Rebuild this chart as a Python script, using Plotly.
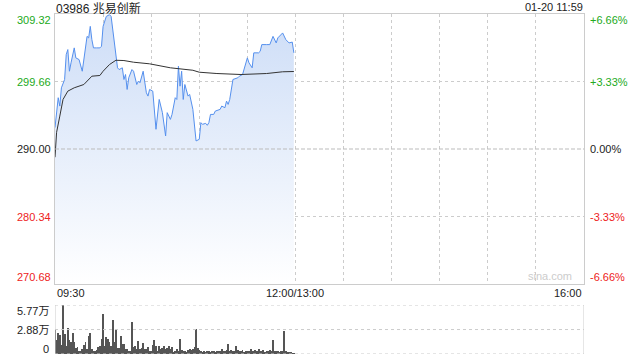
import plotly.graph_objects as go

# ---- data ----
PRICE_MIN = [0,1,2,3,4,6,7,8,9,10,12,13,15,17,19,20,21,22,23,24,26,28,29,30,32,34,35,36,37,38,39,40,42,43,44,45,46,48,49,51,52,53,55,57,58,59,61,63,65,67,69,70,72,73,75,76,77,78,79,80,81,83,84,86,88,90,91,92,94,95,96,97,99,100,103,104,106,107,108,109,111,114,115,117,118,120,121,123,124,127,128,129,132,134,136,138,139,142,144,146,148,149]
PRICE = [293.06,295.67,297.34,296.14,298.76,299.95,303.51,304.23,301.13,302.33,304.47,303.04,302.8,301.13,304.23,306.12,305.9,307.55,305.65,304.47,304.47,304.47,304.7,307.55,308.98,309.22,308.98,307.08,305.18,303.76,301.62,301.37,301.62,299.95,300.66,298.52,300.19,301.37,301.13,299.23,299.71,299.48,301.13,298.05,297.57,298.52,298.28,292.82,297.09,295.2,291.86,295.2,294.24,294.95,297.34,297.09,301.85,298.99,301.13,297.09,299.23,297.57,297.81,295.67,291.15,291.39,293.77,293.53,293.67,293.39,293.77,294.95,294.95,295.43,295.67,296.14,295.91,296.85,296.38,297.09,299.95,300.19,300.42,300.66,301.37,303.04,302.33,301.62,303.76,303.76,303.98,304.94,304.94,304.94,306.12,305.18,305.9,306.61,305.65,305.18,305.3,303.76]

AVG_MIN = [0,1,3,5,8,12,18,23,28,30,34,38,43,49,59,72,86,90,101,116,132,142,149]
AVG = [288.82,292.39,294.71,297.09,298.28,298.76,299.23,300.42,300.52,301.13,302.09,302.7,302.66,302.42,302.19,301.62,301.27,300.99,300.8,300.66,300.8,301.05,301.09]

VOL_WAN = [3.0,1.6,2.5,2.2,1.1,5.8,2.3,1.0,3.1,1.7,1.4,2.5,1.4,0.7,0.8,0.4,0.3,0.6,1.1,1.4,
           0.6,2.1,2.5,0.6,0.3,0.4,0.5,0.8,1.0,1.8,4.7,1.0,2.0,1.8,1.4,1.0,4.0,1.4,3.0,0.7,
           0.7,2.1,1.2,1.2,0.6,0.6,0.4,0.4,3.8,0.8,0.9,0.6,1.5,0.6,0.7,1.3,0.6,0.6,0.8,0.3,
           0.4,1.1,1.6,0.9,0.3,0.9,0.6,0.7,0.9,0.6,0.7,0.9,0.6,0.8,0.2,0.3,0.6,0.4,1.8,0.5,
           0.4,0.3,0.2,0.5,0.6,0.5,0.6,0.8,2.9,0.7,0.5,0.3,0.2,0.3,0.2,0.4,0.3,0.2,0.3,0.4,
           0.2,0.3,0.4,0.3,0.6,0.4,0.3,0.5,1.2,0.4,0.5,0.4,0.3,0.9,0.5,0.3,0.4,0.5,0.2,0.3,
           0.4,0.3,0.6,0.4,0.3,0.5,0.4,0.6,0.3,0.4,0.5,0.2,0.3,0.4,0.5,0.3,1.7,0.4,0.3,0.4,
           0.2,0.3,0.4,2.75,0.3,0.2,0.2,0.2,0.1,0.1]
VOL_MIN = list(range(len(VOL_WAN)))

PRICE_TICKS = [309.32, 299.66, 290.00, 280.34, 270.68]
PRICE_LABELS = ["309.32", "299.66", "290.00", "280.34", "270.68"]
PCT_LABELS = ["+6.66%", "+3.33%", "0.00%", "-3.33%", "-6.66%"]
VOL_TICKS = [5.77, 2.88, 0]
VOL_LABELS = ["5.77万", "2.88万", "0"]
X_LABELS = ["09:30", "12:00/13:00", "16:00"]
X_LABEL_POS = [0, 150, 330]
TITLE = "03986 兆易创新"
STAMP = "01-20 11:59"

# ---- style ----
GREEN = "#22aa22"
RED = "#ee2222"
BLACK = "#222222"
GRID = "#cccccc"
FONT = "Liberation Sans, Arial, Noto Sans CJK SC"

MAIN_DOM = [0.2059, 1.0]
VOL_DOM = [0.0, 0.1441]

fig = go.Figure()

fig.add_trace(go.Scatter(
    x=PRICE_MIN, y=PRICE, mode="lines",
    line=dict(color="#5590ee", width=1),
    fill="tozeroy",
    fillgradient=dict(type="vertical", start=270.68, stop=309.32,
                      colorscale=[[0, "rgba(255,255,255,1)"], [1, "rgba(205,221,247,1)"]]),
    xaxis="x", yaxis="y", hoverinfo="skip", showlegend=False))

fig.add_trace(go.Scatter(
    x=AVG_MIN, y=AVG, mode="lines", line=dict(color="#333333", width=1),
    xaxis="x", yaxis="y", hoverinfo="skip", showlegend=False))

fig.add_trace(go.Bar(
    x=VOL_MIN, y=VOL_WAN, width=0.55, marker=dict(color="#555555", line=dict(width=0)),
    xaxis="x2", yaxis="y2", hoverinfo="skip", showlegend=False))

fig.update_layout(
    width=640, height=360,
    margin=dict(l=55, r=56, t=14, b=6),
    paper_bgcolor="white", plot_bgcolor="rgba(0,0,0,0)",
    font=dict(family=FONT, size=11, color=BLACK),
    xaxis=dict(domain=[0, 1], range=[0, 330], anchor="y",
               tickvals=[30, 60, 90, 120, 150, 180, 210, 240, 270, 300],
               showticklabels=False, ticks="",
               showgrid=True, gridcolor=GRID, griddash="dot", gridwidth=1,
               showline=True, mirror=True, linecolor=GRID, linewidth=1, zeroline=False),
    yaxis=dict(domain=MAIN_DOM, range=[270.68, 309.32], anchor="x",
               tickvals=[299.66, 280.34], showticklabels=False, ticks="",
               showgrid=True, gridcolor=GRID, griddash="dot", gridwidth=1,
               showline=True, mirror=True, linecolor=GRID, linewidth=1, zeroline=False),
    xaxis2=dict(domain=[0, 1], range=[0, 330], anchor="y2",
                showticklabels=False, ticks="", showgrid=False, zeroline=False, showline=False),
    yaxis2=dict(domain=VOL_DOM, range=[0, 5.77], anchor="x2",
                showticklabels=False, ticks="", showgrid=False, zeroline=False, showline=False),
    bargap=0,
)

shapes = []
# 0% dashed line
shapes.append(dict(type="line", xref="x", yref="y", x0=0, x1=330, y0=290, y1=290,
                   line=dict(color="#bbbbbb", width=1, dash="4px,2px")))
# volume frame
for v in VOL_TICKS:
    shapes.append(dict(type="line", xref="x2", yref="y2", x0=0, x1=330, y0=v, y1=v,
                       line=dict(color=GRID, width=1, dash="dot")))
for xv in [0, 330]:
    shapes.append(dict(type="line", xref="x2", yref="y2", x0=xv, x1=xv, y0=0, y1=5.77,
                       line=dict(color=GRID, width=1)))
fig.update_layout(shapes=shapes)

ann = []
left_cols = [GREEN, GREEN, BLACK, RED, RED]
shifts = [-6, 0, 0, 0, 7]
for v, lab, pct, c, s in zip(PRICE_TICKS, PRICE_LABELS, PCT_LABELS, left_cols, shifts):
    ann.append(dict(xref="paper", yref="y", x=0, y=v, text=lab, showarrow=False,
                    xanchor="right", yanchor="middle", xshift=-2, yshift=s,
                    font=dict(color=c, size=11, family=FONT)))
    ann.append(dict(xref="paper", yref="y", x=1, y=v, text=pct, showarrow=False,
                    xanchor="left", yanchor="middle", xshift=4, yshift=s,
                    font=dict(color=c, size=11, family=FONT)))
vshifts = [-6, 0, 5]
for v, lab, s in zip(VOL_TICKS, VOL_LABELS, vshifts):
    ann.append(dict(xref="paper", yref="y2", x=0, y=v, text=lab, showarrow=False,
                    xanchor="right", yanchor="middle", xshift=-4, yshift=s,
                    font=dict(color=BLACK, size=11, family=FONT)))
anchors = ["left", "center", "right"]
for p, lab, a in zip(X_LABEL_POS, X_LABELS, anchors):
    ann.append(dict(xref="x", yref="paper", x=p, y=MAIN_DOM[0], text=lab, showarrow=False,
                    xanchor=a, yanchor="top", yshift=-1,
                    font=dict(color=BLACK, size=11, family=FONT)))
ann.append(dict(xref="paper", yref="paper", x=0, y=1, text=TITLE, showarrow=False,
                xanchor="left", yanchor="top", yshift=14, borderpad=0,
                font=dict(color=BLACK, size=12, family=FONT)))
ann.append(dict(xref="paper", yref="paper", x=1, y=1, text=STAMP, showarrow=False,
                xanchor="right", yanchor="top", yshift=14, borderpad=0,
                font=dict(color=BLACK, size=11, family=FONT)))
ann.append(dict(xref="paper", yref="y", x=1, y=270.68, text="sina.com", showarrow=False,
                xanchor="right", yanchor="bottom", xshift=-10, yshift=0,
                font=dict(color="#cccccc", size=11, family=FONT)))
fig.update_layout(annotations=ann)

fig.write_html("out.html")
